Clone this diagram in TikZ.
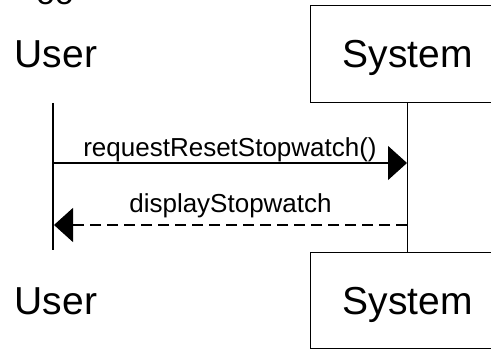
\documentclass[tikz,border=0pt]{standalone}
\usepackage{fontspec}
\setmainfont{Liberation Sans}
\usetikzlibrary{arrows.meta}
\newcommand{\actorfont}{\fontsize{39}{39}\selectfont}
\newcommand{\msgfont}{\fontsize{26}{26}\selectfont}
\tikzset{
  lifebox/.style={draw,line width=1.4pt,minimum width=194pt,minimum height=97pt,anchor=north west,inner sep=0pt,text depth=0pt,font=\actorfont},
  lifeline/.style={line width=1.3pt},
  msg/.style={line width=1.3pt,-{Triangle[length=19pt,width=34pt]}},
  reply/.style={msg,dash pattern=on 11pt off 6pt}
}
\begin{document}
\begin{tikzpicture}[x=1pt,y=-1pt]

\useasboundingbox (0,0) rectangle (491,350);
\clip (0,0) rectangle (491,350);

% actors
\node[anchor=base,font=\fontsize{34}{34}\selectfont] (frag) at (55,5) {oo};
\node[anchor=base,font=\actorfont] (userTop) at (56,68) {User};
\node[anchor=base,font=\actorfont] (userBot) at (56,315) {User};

\node[lifebox] (sysTop) at (310,5) {System};
\node[lifebox,minimum height=96pt] (sysBot) at (310,252) {System};

% lifelines
\coordinate (uA) at (53,103);
\coordinate (uB) at (53,250);
\draw[lifeline] (uA) -- (uB);
\draw[lifeline] (sysTop.south) -- (sysBot.north);

% messages
\coordinate (reqS) at (53,163);
\coordinate (reqE) at (407,163);
\draw[msg] (reqS) -- node[anchor=base,yshift=6pt,font=\msgfont] (reqL) {requestResetStopwatch()} (reqE);

\coordinate (dispS) at (407,225);
\coordinate (dispE) at (54,225);
\draw[reply] (dispS) -- node[anchor=base,yshift=12pt,font=\msgfont] (dispL) {displayStopwatch} (dispE);

\end{tikzpicture}
\end{document}
